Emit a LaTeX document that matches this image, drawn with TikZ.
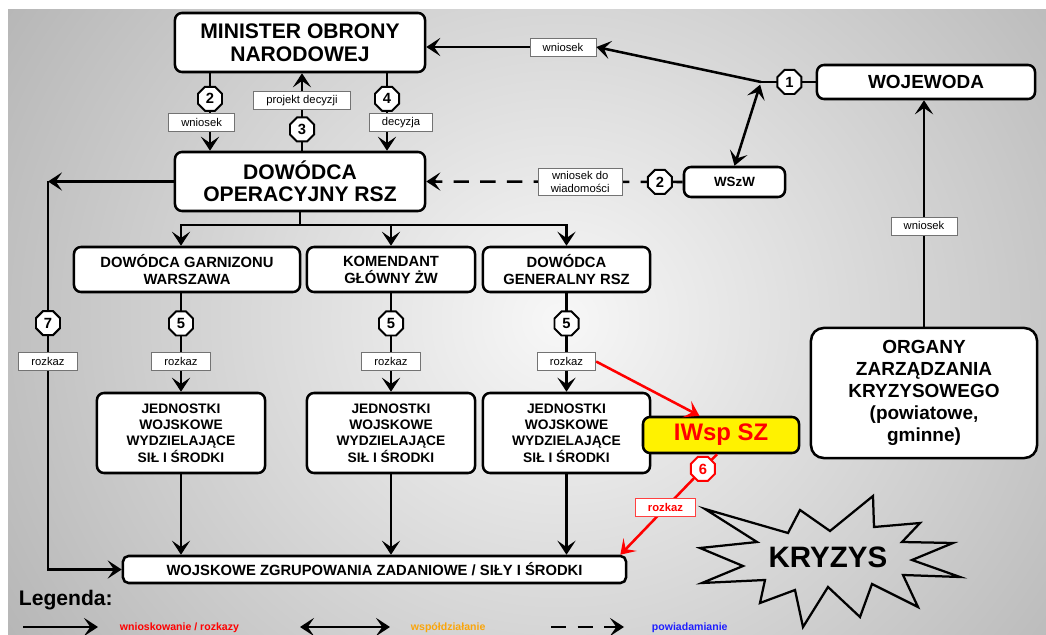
\documentclass[tikz,border=0pt]{standalone}
\usepackage{fontspec}
\setmainfont{Liberation Sans}
\usetikzlibrary{arrows.meta, positioning, shapes.geometric}
\definecolor{wspolcol}{RGB}{250,165,10}
\definecolor{powcol}{RGB}{30,30,255}
\newcommand{\setfs}[2]{\fontsize{#1}{#2}\selectfont}

\begin{document}
\begin{tikzpicture}[
  x=0.025cm, y=-0.025cm,
  box/.style={draw, fill=white, rounded corners=5pt, line width=1.8pt, align=center, font=\bfseries\setfs{10.5}{12}, inner sep=2pt},
  lbl/.style={solid, draw=black!55, fill=white, line width=0.6pt, align=center, font=\setfs{8}{9.5}, inner xsep=9pt, inner ysep=2pt, minimum height=0.45cm},
  lblred/.style={lbl, draw=red!75, text=red, font=\bfseries\setfs{8}{9.5}},
  num/.style={solid, regular polygon, regular polygon sides=8, draw, fill=white, line width=1.4pt, inner sep=0pt, minimum size=0.65cm, font=\bfseries\setfs{10.5}{10.5}},
  numred/.style={num, draw=red, text=red},
  redline/.style={draw=red, ->},
  dashline/.style={dash pattern=on 11pt off 8pt},
  legtxt/.style={anchor=west, font=\bfseries\setfs{7.5}{8}},
  line width=1.8pt, >={Stealth[length=10pt, width=13pt, inset=4.5pt]}
]
% tlo
\useasboundingbox (0,0) rectangle (1046,635);
\begin{scope}
  \clip (8,10) rectangle (1046,635);
  \shade[inner color=black!3, outer color=black!46] (-540,-700) rectangle (1660,1340);
\end{scope}

% wezly
\node[box, font=\bfseries\setfs{15}{16}, minimum width=6.25cm, minimum height=1.475cm] (mon) at (300,42.5) {MINISTER OBRONY\\NARODOWEJ};
\node[box, font=\bfseries\setfs{15}{16}, minimum width=6.25cm, minimum height=1.475cm] (do) at (300,181.5) {DOWÓDCA\\OPERACYJNY RSZ};
\node[box, font=\bfseries\setfs{13.5}{15}, minimum width=5.45cm, minimum height=0.85cm] (woj) at (926,82) {WOJEWODA};
\node[box, font=\bfseries\setfs{9.5}{11}, minimum width=2.525cm, minimum height=0.75cm] (wszw) at (734.5,182) {WSzW};
\node[box, font=\bfseries\setfs{13.5}{15.6}, minimum width=5.65cm, minimum height=3.25cm, rounded corners=9pt] (org) at (924,393) {ORGANY\\ZARZĄDZANIA\\KRYZYSOWEGO\\(powiatowe,\\gminne)};
\node[box, minimum width=5.65cm, minimum height=1.125cm] (dgw) at (187,269.5) {DOWÓDCA GARNIZONU\\WARSZAWA};
\node[box, minimum width=4.2cm, minimum height=1.125cm] (kg) at (391,269.5) {KOMENDANT\\GŁÓWNY ŻW};
\node[box, minimum width=4.175cm, minimum height=1.125cm] (dg) at (566.5,269.5) {DOWÓDCA\\GENERALNY RSZ};
\node[box, font=\bfseries\setfs{9.8}{11.5}, minimum width=4.2cm, minimum height=2cm] (jed1) at (181,433) {JEDNOSTKI\\WOJSKOWE\\WYDZIELAJĄCE\\SIŁ I ŚRODKI};
\node[box, font=\bfseries\setfs{9.8}{11.5}, minimum width=4.2cm, minimum height=2cm] (jed2) at (391,433) {JEDNOSTKI\\WOJSKOWE\\WYDZIELAJĄCE\\SIŁ I ŚRODKI};
\node[box, font=\bfseries\setfs{9.8}{11.5}, minimum width=4.175cm, minimum height=2cm] (jed3) at (566.5,433) {JEDNOSTKI\\WOJSKOWE\\WYDZIELAJĄCE\\SIŁ I ŚRODKI};
\node[box, minimum width=12.575cm, minimum height=0.675cm, rounded corners=4pt] (wzz) at (374.5,569.5) {WOJSKOWE ZGRUPOWANIA ZADANIOWE / SIŁY I ŚRODKI};
\node[box, fill=yellow, text=red, font=\bfseries\setfs{17}{18}, minimum width=3.9cm, minimum height=0.9cm] (iwsp) at (721,435) {IWsp SZ};
\node[lbl] (lw) at (563,47) {wniosek};

\coordinate (wj) at (761,82);
\coordinate (bus) at (0,225);
\coordinate (cl) at (210,0);
\coordinate (cm) at (302,0);
\coordinate (cr) at (387,0);
\coordinate (c7) at (48,181.5);
\coordinate (c7b) at (48,569.5);

% MON <-> DO
\draw[->] (mon.south -| cl) -- node[num, pos=.33] (n2) {2} node[lbl, pos=.64, xshift=-0.21cm] (l2) {wniosek} (do.north -| cl);
\draw[->] (do.north -| cm) -- node[num, pos=.275] (n3) {3} node[lbl, pos=.65] (l3) {projekt decyzji} (mon.south -| cm);
\draw[->] (mon.south -| cr) -- node[num, pos=.33] (n4) {4} node[lbl, pos=.64, xshift=0.35cm] (l4) {decyzja} (do.north -| cr);

% wojewoda
\draw (woj.west) -- node[num, pos=.48] (n1) {1} (wj);
\draw[->] (wj) -- (lw.east);
\draw[->] (lw.west) -- (lw.west -| mon.east);
\draw[<->, shorten <=2pt] (wj) -- (wszw.north);
\draw[->] (org.north) -- node[lbl, pos=.445] (lo) {wniosek} (woj.south -| org.north);
\draw[dashline, ->] (wszw.west) -- node[num, pos=.089] (n2b) {2} node[lbl, pos=.40] (lwd) {wniosek do\\wiadomości} (do.east);

% rozdzial w dol
\draw[->] (do.south) |- (bus -| jed1) -- (dgw.north -| jed1);
\draw[->] (do.south) |- (bus -| jed3) -- (dg.north);
\draw[->] (bus -| jed2) -- (kg.north);

\draw[->] (dgw.south -| jed1) -- node[num, pos=.307] (n5a) {5} node[lbl, pos=.693] (l5a) {rozkaz} (jed1.north);
\draw[->] (kg.south) -- node[num, pos=.307] (n5b) {5} node[lbl, pos=.693] (l5b) {rozkaz} (jed2.north);
\draw[->] (dg.south) -- node[num, pos=.307] (n5c) {5} node[lbl, pos=.693] (l5c) {rozkaz} (jed3.north);

\draw[->] (jed1.south) -- (jed1.south |- wzz.north);
\draw[->] (jed2.south) -- (jed2.south |- wzz.north);
\draw[->] (jed3.south) -- (jed3.south |- wzz.north);

% rozkaz 7
\draw[->] (do.west) -- (c7);
\draw[->] (c7) -- node[num, pos=.365] (n7) {7} node[lbl, pos=.465] (l7) {rozkaz} (c7b) -- (wzz.west);

% IWsp SZ
\draw[redline] (l5c.east) -- ([xshift=-0.54cm]iwsp.north);
\draw[redline] ([xshift=-0.1cm]iwsp.south) -- node[numred, pos=.146] (n6) {6} node[lblred, pos=.534] (l6) {rozkaz} ([xshift=-0.175cm]wzz.north east);

% kryzys
\draw[line width=1.6pt, line join=miter] (705,509) -- (788,533) -- (800,510) -- (830,531) -- (873,496) -- (874,527) -- (920,523) -- (902,542) -- (953,543) -- (912,560) -- (960,577) -- (903,575) -- (918,607) -- (872,584) -- (860,617) -- (828,587) -- (803,627) -- (795,590) -- (760,603) -- (765,580) -- (702,583) -- (743,566) -- (700,548) -- (757,542) -- cycle;
\node[font=\bfseries\setfs{21}{22}] (kryzys) at (828,557) {KRYZYS};

% legenda
\node[anchor=west, font=\bfseries\setfs{15}{16}] (leg) at (13,600) {Legenda:};
\coordinate (la1) at (23,627);
\coordinate (la2) at (98,627);
\coordinate (lb1) at (300,627);
\coordinate (lb2) at (390,627);
\coordinate (lc1) at (551,627);
\coordinate (lc2) at (624,627);
\draw[->] (la1) -- (la2);
\draw[<->] (lb1) -- (lb2);
\draw[dashline, ->] (lc1) -- (lc2);
\node[legtxt, text=red] (lt1) at (114,628) {wnioskowanie / rozkazy};
\node[legtxt, text=wspolcol] (lt2) at (405,628) {współdziałanie};
\node[legtxt, text=powcol] (lt3) at (646,628) {powiadamianie};

\end{tikzpicture}
\end{document}
